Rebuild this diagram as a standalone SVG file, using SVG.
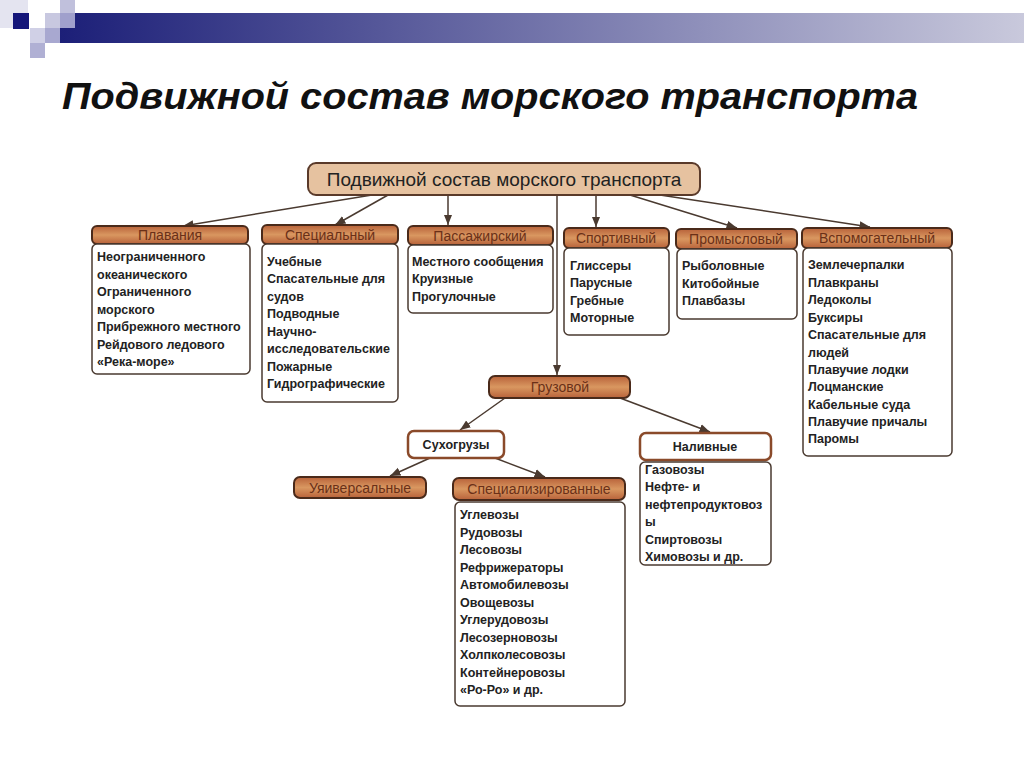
<svg xmlns="http://www.w3.org/2000/svg" width="1024" height="767" viewBox="0 0 1024 767">
<defs>
<linearGradient id="bar" x1="0" x2="1" y1="0" y2="0"><stop offset="0" stop-color="#1c1f78"/><stop offset="1" stop-color="#c9c9dc"/></linearGradient>
<linearGradient id="hdr" x1="0" x2="0" y1="0" y2="1"><stop offset="0" stop-color="#b8623a"/><stop offset="0.5" stop-color="#d99760"/><stop offset="1" stop-color="#b8623a"/></linearGradient>
<marker id="ar" viewBox="0 0 10 10" refX="10" refY="5" markerWidth="7" markerHeight="7" orient="auto"><path d="M0,1 L10,5 L0,9 z" fill="#4a3a30"/></marker>
<style>
.hd{fill:url(#hdr);stroke:#4a2a1a;stroke-width:2}
.ht{font-family:"Liberation Sans",Arial,sans-serif;font-size:14px;fill:#6a3018;text-anchor:middle}
.bx{fill:#fff;stroke:#4a3a30;stroke-width:1.5}
.wb{fill:#fff;stroke:#8a4a2a;stroke-width:2.5}
.tx{font-family:"Liberation Sans",Arial,sans-serif;font-size:12.5px;font-weight:bold;fill:#222}
.cn line{stroke:#4a3a30;stroke-width:1.5;marker-end:url(#ar)}
</style>
</defs>
<rect width="1024" height="767" fill="#fff"/>
<g id="decor">
<rect x="60" y="13" width="964" height="30" fill="url(#bar)"/>
<rect x="0" y="0" width="28" height="28" fill="#e4e4f0"/>
<rect x="13" y="13" width="16" height="16" fill="#14167a"/>
<rect x="45" y="13" width="15" height="15" fill="#c8c8e0"/>
<rect x="60" y="0" width="15" height="28" fill="#c0c0dc"/>
<rect x="60" y="13" width="15" height="15" fill="#a0a0cc"/>
<rect x="30" y="28" width="15" height="15" fill="#d0d0e6"/>
<rect x="45" y="28" width="15" height="15" fill="#a8a8d0"/>
<rect x="30" y="43" width="15" height="15" fill="#b0b0d4"/>
</g>
<text x="62" y="109" font-family="Liberation Sans,Arial,sans-serif" font-size="36" font-weight="bold" font-style="italic" fill="#111" textLength="856" lengthAdjust="spacingAndGlyphs">Подвижной состав морского транспорта</text>

<g class="cn" id="connectors">
<line x1="372" y1="195" x2="183" y2="226"/>
<line x1="388" y1="195" x2="335" y2="225"/>
<line x1="448" y1="195" x2="448" y2="225"/>
<line x1="557" y1="195" x2="557" y2="375"/>
<line x1="596" y1="195" x2="596" y2="227"/>
<line x1="630" y1="195" x2="737" y2="228"/>
<line x1="660" y1="195" x2="870" y2="227"/>
<line x1="505" y1="398" x2="460" y2="430"/>
<line x1="620" y1="398" x2="710" y2="432"/>
<line x1="430" y1="458" x2="390" y2="476"/>
<line x1="495" y1="458" x2="545" y2="477"/>
</g>

<g id="root"><rect x="308" y="163" width="392" height="32" rx="8" fill="#e6c2a0" stroke="#5a3a2a" stroke-width="2"/>
<text x="504" y="186" font-family="Liberation Sans,Arial,sans-serif" font-size="19" fill="#222" text-anchor="middle">Подвижной состав морского транспорта</text></g>

<g id="plavaniya"><rect class="hd" x="92" y="226" width="156" height="18" rx="5"/><text class="ht" x="170" y="240">Плавания</text>
<rect class="bx" x="92" y="244" width="158" height="130" rx="5"/>
<text class="tx" x="97"><tspan x="97" y="261">Неограниченного</tspan><tspan x="97" y="279">океанического</tspan><tspan x="97" y="296">Ограниченного</tspan><tspan x="97" y="314">морского</tspan><tspan x="97" y="331">Прибрежного местного</tspan><tspan x="97" y="349">Рейдового ледового</tspan><tspan x="97" y="366">«Река-море»</tspan></text></g>

<g id="specialny"><rect class="hd" x="262" y="225" width="136" height="19" rx="5"/><text class="ht" x="330" y="240">Специальный</text>
<rect class="bx" x="262" y="244" width="136" height="158" rx="5"/>
<text class="tx"><tspan x="267" y="266">Учебные</tspan><tspan x="267" y="283">Спасательные для</tspan><tspan x="267" y="301">судов</tspan><tspan x="267" y="318">Подводные</tspan><tspan x="267" y="336">Научно-</tspan><tspan x="267" y="353">исследовательские</tspan><tspan x="267" y="371">Пожарные</tspan><tspan x="267" y="388">Гидрографические</tspan></text></g>

<g id="passazh"><rect class="hd" x="408" y="226" width="145" height="19" rx="5"/><text class="ht" x="480" y="241">Пассажирский</text>
<rect class="bx" x="408" y="245" width="145" height="68" rx="5"/>
<text class="tx"><tspan x="412" y="266">Местного сообщения</tspan><tspan x="412" y="283">Круизные</tspan><tspan x="412" y="301">Прогулочные</tspan></text></g>

<g id="sport"><rect class="hd" x="564" y="228" width="105" height="20" rx="5"/><text class="ht" x="616" y="243">Спортивный</text>
<rect class="bx" x="564" y="248" width="105" height="87" rx="5"/>
<text class="tx"><tspan x="570" y="270">Глиссеры</tspan><tspan x="570" y="287">Парусные</tspan><tspan x="570" y="305">Гребные</tspan><tspan x="570" y="322">Моторные</tspan></text></g>

<g id="promysl"><rect class="hd" x="676" y="229" width="121" height="20" rx="5"/><text class="ht" x="736" y="244">Промысловый</text>
<rect class="bx" x="677" y="249" width="120" height="70" rx="5"/>
<text class="tx"><tspan x="682" y="270">Рыболовные</tspan><tspan x="682" y="288">Китобойные</tspan><tspan x="682" y="305">Плавбазы</tspan></text></g>

<g id="vspom"><rect class="hd" x="802" y="228" width="150" height="20" rx="5"/><text class="ht" x="877" y="243">Вспомогательный</text>
<rect class="bx" x="803" y="248" width="149" height="208" rx="5"/>
<text class="tx"><tspan x="808" y="269">Землечерпалки</tspan><tspan x="808" y="287">Плавкраны</tspan><tspan x="808" y="304">Ледоколы</tspan><tspan x="808" y="322">Буксиры</tspan><tspan x="808" y="339">Спасательные для</tspan><tspan x="808" y="357">людей</tspan><tspan x="808" y="374">Плавучие лодки</tspan><tspan x="808" y="391">Лоцманские</tspan><tspan x="808" y="409">Кабельные суда</tspan><tspan x="808" y="426">Плавучие причалы</tspan><tspan x="808" y="443">Паромы</tspan></text></g>

<g id="gruzovoy"><rect class="hd" x="489" y="376" width="141" height="22" rx="6"/><text class="ht" x="560" y="392">Грузовой</text></g>

<g id="suhogruzy"><rect class="wb" x="408" y="431" width="96" height="27" rx="6"/><text class="tx" x="456" y="449" text-anchor="middle">Сухогрузы</text></g>

<g id="nalivnye"><rect class="wb" x="640" y="433" width="131" height="27" rx="6"/><text class="tx" x="705" y="451" text-anchor="middle">Наливные</text>
<rect class="bx" x="640" y="462" width="131" height="103" rx="5"/>
<text class="tx"><tspan x="645" y="474">Газовозы</tspan><tspan x="645" y="491">Нефте- и</tspan><tspan x="645" y="509">нефтепродуктовоз</tspan><tspan x="645" y="526">ы</tspan><tspan x="645" y="544">Спиртовозы</tspan><tspan x="645" y="561">Химовозы и др.</tspan></text></g>

<g id="universal"><rect class="hd" x="294" y="477" width="132" height="21" rx="6"/><text class="ht" x="360" y="493">Уяиверсальные</text></g>

<g id="specializ"><rect class="hd" x="453" y="478" width="172" height="22" rx="6"/><text class="ht" x="539" y="494">Специализированные</text>
<rect class="bx" x="455" y="502" width="170" height="204" rx="5"/>
<text class="tx"><tspan x="460" y="519">Углевозы</tspan><tspan x="460" y="537">Рудовозы</tspan><tspan x="460" y="554">Лесовозы</tspan><tspan x="460" y="572">Рефрижераторы</tspan><tspan x="460" y="589">Автомобилевозы</tspan><tspan x="460" y="607">Овощевозы</tspan><tspan x="460" y="624">Углерудовозы</tspan><tspan x="460" y="642">Лесозерновозы</tspan><tspan x="460" y="659">Холпколесовозы</tspan><tspan x="460" y="677">Контейнеровозы</tspan><tspan x="460" y="694">«Ро-Ро» и др.</tspan></text></g>
</svg>
